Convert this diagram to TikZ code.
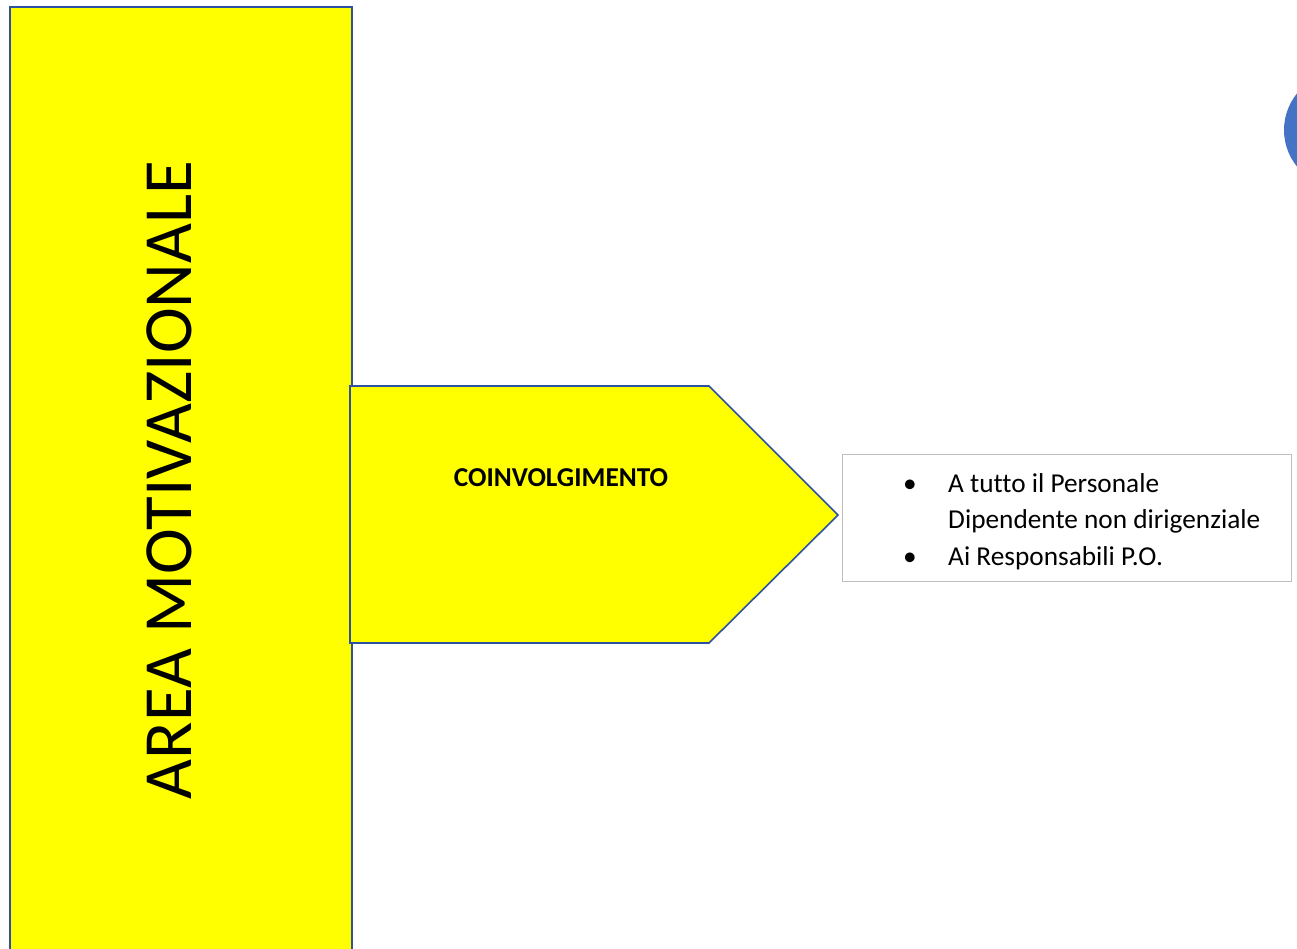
\documentclass[tikz,border=0pt]{standalone}
\usepackage{fontspec}
\setmainfont[Ligatures={NoCommon}]{Carlito}
\definecolor{shapeyellow}{HTML}{FFFF00}
\definecolor{edgeblue}{HTML}{2F52A0}
\definecolor{circblue}{HTML}{4472C4}
\definecolor{boxgray}{HTML}{BFBFBF}
\tikzset{
  areabox/.style={fill=shapeyellow, draw=edgeblue, line width=2pt},
  arrowshape/.style={fill=shapeyellow, draw=edgeblue, line width=1.6pt, line join=miter},
  listbox/.style={draw=boxgray, line width=1pt, fill=white},
  bodytext/.style={font=\fontsize{27.3}{36}\selectfont, inner sep=0pt},
}
\begin{document}
\begin{tikzpicture}[x=1pt,y=-1pt]
\useasboundingbox (0,0) rectangle (1297,948);
\clip (0,0) rectangle (1297,948);
% left tall box
\draw[areabox] (10,7) rectangle (352,965);
\node[rotate=90, font=\fontsize{69}{80}\selectfont, inner sep=0pt] (title) at (169,480) {AREA MOTIVAZIONALE};
% pentagon arrow
\draw[arrowshape] (350,386) -- (709,386) -- (838,515) -- (709,643) -- (350,643) -- cycle;
\node[bodytext, font=\fontsize{27.3}{36}\selectfont\bfseries, anchor=base] (coinv) at (561,486) {COINVOLGIMENTO};
% list box
\draw[listbox] (842,454) rectangle (1291,581);
\node[bodytext, anchor=base] (b1) at (910,492) {\textbullet};
\node[bodytext, anchor=base west] (l1) at (948,492) {A tutto il Personale};
\node[bodytext, anchor=base west] (l2) at (948,528) {Dipendente non dirigenziale};
\node[bodytext, anchor=base] (b2) at (910,565) {\textbullet};
\node[bodytext, anchor=base west] (l3) at (948,565) {Ai Responsabili P.O.};
% blue circle at the edge
\fill[circblue] (1342,130) circle (58);
\end{tikzpicture}
\end{document}
